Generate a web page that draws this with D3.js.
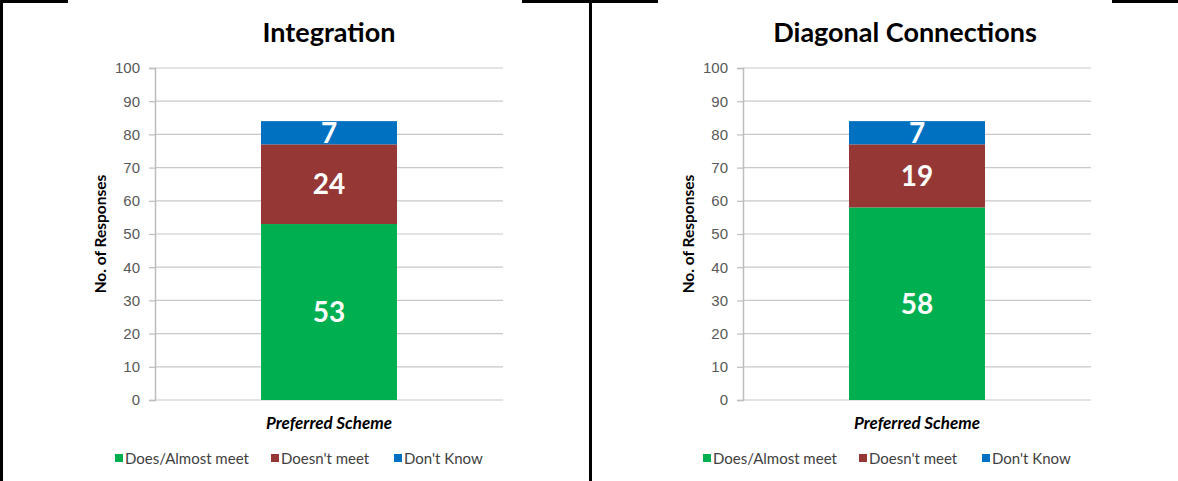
<!DOCTYPE html>
<html>
<head>
<meta charset="utf-8">
<script src="https://cdn.jsdelivr.net/npm/d3@7"></script>
<style>
  body { margin: 0; background: #fff; }
  svg { font-family: Lato, "Open Sans", sans-serif; }
  .tick text { fill: #595959; font-size: 15px; }
</style>
</head>
<body>
<svg id="chart" width="1178" height="481"></svg>
<script>
const titles = ["Integration", "Diagonal Connections"];
const categories = ["Preferred Scheme"];
const seriesNames = ["Does/Almost meet", "Doesn't meet", "Don't Know"];
const seriesColors = ["#00b050", "#953735", "#0070c0"];
const doesMeet = [53, 58];
const doesntMeet = [24, 19];
const dontKnow = [7, 7];
const yTicks = [0, 10, 20, 30, 40, 50, 60, 70, 80, 90, 100];

const panelOffset = [0, 588];
const titleShift = [0, -12];
const margin = {top: 68, left: 155, right: 503, bottom: 400};

const svg = d3.select("#chart");

// frame lines (table cell borders)
svg.append("rect").attr("x", 0).attr("y", 0).attr("width", 3).attr("height", 481).attr("fill", "#000");
svg.append("rect").attr("x", 589).attr("y", 0).attr("width", 3).attr("height", 481).attr("fill", "#000");
[[0, 68], [522, 592], [589, 658], [1112, 1178]].forEach(s => {
  svg.append("rect").attr("x", s[0]).attr("y", 0).attr("width", s[1] - s[0]).attr("height", 3).attr("fill", "#000");
});

const y = d3.scaleLinear().domain([0, 100]).range([margin.bottom, margin.top]);

titles.forEach((title, i) => {
  const g = svg.append("g").attr("transform", `translate(${panelOffset[i]},0)`);

  const x = d3.scaleBand()
    .domain(categories)
    .range([margin.left, margin.right])
    .paddingInner(0.438)
    .paddingOuter(0.438);

  // gridlines
  g.append("g").selectAll("line")
    .data(yTicks)
    .enter().append("line")
    .attr("x1", margin.left).attr("x2", margin.right)
    .attr("y1", d => y(d)).attr("y2", d => y(d))
    .attr("stroke", "#c8c8c8").attr("stroke-width", 1.2);

  const yAxis = g.append("g")
    .attr("transform", `translate(${margin.left},0)`)
    .call(d3.axisLeft(y).tickValues(yTicks).tickSize(6).tickPadding(9));
  yAxis.select(".domain").attr("stroke", "#bdbdbd").attr("stroke-width", 1.5);
  yAxis.selectAll(".tick line").attr("stroke", "#bdbdbd").attr("stroke-width", 1.2);

  // stacked bar
  const row = {cat: categories[0]};
  row[seriesNames[0]] = doesMeet[i];
  row[seriesNames[1]] = doesntMeet[i];
  row[seriesNames[2]] = dontKnow[i];
  const stacked = d3.stack().keys(seriesNames)([row]);

  stacked.forEach((layer, k) => {
    layer.forEach(d => {
      g.append("rect")
        .attr("x", x(d.data.cat))
        .attr("width", x.bandwidth())
        .attr("y", y(d[1]))
        .attr("height", y(d[0]) - y(d[1]))
        .attr("fill", seriesColors[k]);
      g.append("text")
        .attr("x", x(d.data.cat) + x.bandwidth() / 2)
        .attr("y", (y(d[0]) + y(d[1])) / 2)
        .attr("dy", "0.36em")
        .attr("text-anchor", "middle")
        .attr("fill", "#fff")
        .attr("font-weight", "bold")
        .attr("font-size", 28)
        .text(d[1] - d[0]);
    });
  });

  // title
  g.append("text")
    .attr("x", (margin.left + margin.right) / 2 + titleShift[i])
    .attr("y", 42)
    .attr("text-anchor", "middle")
    .attr("font-weight", "bold")
    .attr("font-size", 27)
    .attr("fill", "#000")
    .text(title);

  // y label
  g.append("text")
    .attr("transform", `translate(106,${(margin.top + margin.bottom) / 2}) rotate(-90)`)
    .attr("text-anchor", "middle")
    .attr("font-weight", "bold")
    .attr("font-size", 15.5)
    .attr("fill", "#000")
    .text("No. of Responses");

  // x label
  g.append("text")
    .attr("x", (margin.left + margin.right) / 2)
    .attr("y", 429)
    .attr("text-anchor", "middle")
    .attr("font-weight", "bold")
    .attr("font-style", "italic")
    .attr("font-size", 17)
    .attr("fill", "#000")
    .text(categories[0]);

  // legend
  const legendX = [115, 271, 394];
  const lg = g.selectAll(".legend")
    .data(seriesNames)
    .enter().append("g")
    .attr("transform", (d, k) => `translate(${legendX[k]},454)`);
  lg.append("rect").attr("width", 8).attr("height", 8).attr("fill", (d, k) => seriesColors[k]);
  lg.append("text")
    .attr("x", 10).attr("y", 9.5)
    .attr("font-size", 15)
    .attr("fill", "#404040")
    .text(d => d);
});
</script>
</body>
</html>
